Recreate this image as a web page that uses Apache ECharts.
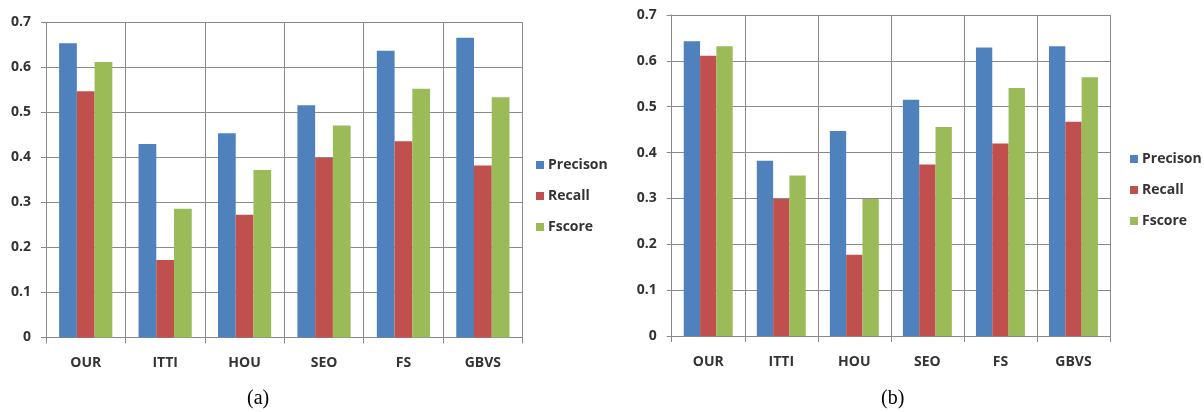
<!DOCTYPE html>
<html>
<head>
<meta charset="utf-8">
<script src="https://cdn.jsdelivr.net/npm/echarts@6/dist/echarts.min.js"></script>
<style>
html,body{margin:0;padding:0;background:#fff;}
#chart{width:1204px;height:412px;}
</style>
</head>
<body>
<div id="chart"></div>
<script>
var categories = ['OUR', 'ITTI', 'HOU', 'SEO', 'FS', 'GBVS'];
var seriesNames = ['Precison', 'Recall', 'Fscore'];
var precisionA = [0.654, 0.430, 0.454, 0.516, 0.637, 0.666];
var recallA    = [0.547, 0.172, 0.273, 0.399, 0.436, 0.382];
var fscoreA    = [0.612, 0.286, 0.372, 0.471, 0.553, 0.534];
var precisionB = [0.643, 0.382, 0.447, 0.515, 0.629, 0.632];
var recallB    = [0.611, 0.299, 0.177, 0.374, 0.420, 0.467];
var fscoreB    = [0.632, 0.350, 0.299, 0.456, 0.541, 0.564];
var yTicks = [0, 0.1, 0.2, 0.3, 0.4, 0.5, 0.6, 0.7];
var captions = ['(a)', '(b)'];

var colors = ['#4F81BD', '#C0504D', '#9BBB59'];
var gridColor = '#8a8a8a';
var labelFont = {fontFamily: 'Open Sans', fontWeight: 'bold', fontSize: 14, color: '#333'};

var chart = echarts.init(document.getElementById('chart'));

function xAxis(gi) {
  return {
    type: 'category', gridIndex: gi, data: categories, boundaryGap: true,
    axisLine: {lineStyle: {color: gridColor, width: 1}},
    axisTick: {show: true, length: 6, lineStyle: {color: gridColor}},
    splitLine: {show: true, lineStyle: {color: gridColor, width: 1}},
    axisLabel: Object.assign({margin: 19}, labelFont)
  };
}
function yAxis(gi) {
  return {
    type: 'value', gridIndex: gi, min: 0, max: yTicks[yTicks.length - 1], interval: 0.1,
    axisLine: {show: true, lineStyle: {color: gridColor, width: 1}},
    axisTick: {show: true, length: 5, lineStyle: {color: gridColor}},
    splitLine: {show: true, lineStyle: {color: gridColor, width: 1}},
    axisLabel: Object.assign({margin: 15, formatter: function (v) { return String(Math.round(v * 10) / 10); }}, labelFont)
  };
}
function bar(name, data, idx, gi) {
  return {
    name: name, type: 'bar', xAxisIndex: gi, yAxisIndex: gi, data: data,
    barGap: '0%', barCategoryGap: '33%',
    itemStyle: {color: colors[idx]}
  };
}
function legend(gi, left, top) {
  return {
    orient: 'vertical', left: left, top: top, itemWidth: 8, itemHeight: 8, itemGap: 17,
    icon: 'rect', data: seriesNames,
    textStyle: Object.assign({}, labelFont, {fontSize: 14, padding: [0, 0, 0, -1]}),
    selectedMode: false
  };
}

chart.setOption({
  animation: false,
  backgroundColor: '#fff',
  grid: [
    {left: 46, top: 22.5, width: 476.6, height: 315},
    {left: 671.7, top: 15, width: 438.3, height: 321}
  ],
  xAxis: [xAxis(0), xAxis(1)],
  yAxis: [yAxis(0), yAxis(1)],
  legend: [legend(0, 531, 153), legend(1, 1125, 147)],
  series: [
    bar(seriesNames[0], precisionA, 0, 0),
    bar(seriesNames[1], recallA, 1, 0),
    bar(seriesNames[2], fscoreA, 2, 0),
    bar(seriesNames[0], precisionB, 0, 1),
    bar(seriesNames[1], recallB, 1, 1),
    bar(seriesNames[2], fscoreB, 2, 1)
  ],
  graphic: [
    {type: 'text', left: 247, top: 389, style: {text: captions[0], font: '20px "Liberation Serif"', fill: '#000'}},
    {type: 'text', left: 881, top: 389, style: {text: captions[1], font: '20px "Liberation Serif"', fill: '#000'}}
  ]
});
</script>
</body>
</html>
